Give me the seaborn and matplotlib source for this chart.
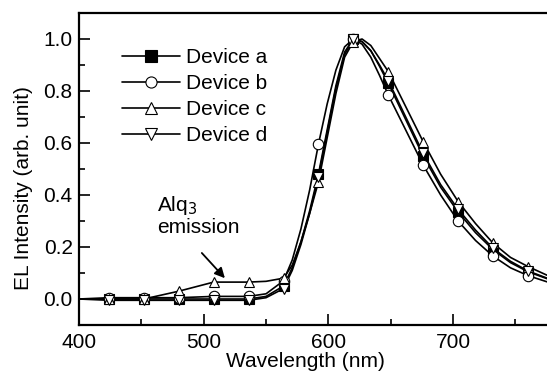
import matplotlib
matplotlib.use("Agg")
import matplotlib.pyplot as plt
import pandas as pd
import seaborn as sns
from matplotlib.lines import Line2D
from matplotlib.ticker import MultipleLocator

# wavelength grid for the curves (nm)
wavelength = [400, 424, 452, 480, 508, 536, 550, 564, 571, 578, 585, 592, 599, 606,
              613, 620, 627, 634, 641, 648, 662, 676, 690, 704, 718, 732, 746, 760, 776]
# wavelengths where symbols are drawn
marker_wl = [424, 452, 480, 508, 536, 564, 592, 620, 648, 676, 704, 732, 760]

device_a = [0.0, 0.0, 0.0, 0.0, 0.0, 0.0, 0.01, 0.05, 0.12, 0.22, 0.34, 0.48, 0.65, 0.82,
            0.95, 1.0, 0.99, 0.955, 0.895, 0.83, 0.69, 0.55, 0.43, 0.335, 0.255, 0.19, 0.14, 0.105, 0.077]
device_b = [0.0, 0.005, 0.005, 0.005, 0.01, 0.01, 0.02, 0.07, 0.15, 0.27, 0.42, 0.595, 0.75, 0.88,
            0.97, 1.0, 0.98, 0.93, 0.86, 0.785, 0.65, 0.515, 0.40, 0.30, 0.225, 0.165, 0.12, 0.09, 0.065]
device_c = [0.0, 0.0, 0.0, 0.03, 0.065, 0.065, 0.068, 0.08, 0.13, 0.22, 0.33, 0.45, 0.62, 0.79,
            0.93, 0.99, 1.0, 0.975, 0.925, 0.875, 0.74, 0.605, 0.48, 0.375, 0.29, 0.215, 0.16, 0.125, 0.09]
device_d = [0.0, -0.005, -0.005, -0.005, -0.005, -0.005, 0.005, 0.04, 0.11, 0.21, 0.33, 0.47, 0.64, 0.81,
            0.94, 1.0, 0.99, 0.955, 0.90, 0.84, 0.70, 0.56, 0.44, 0.345, 0.265, 0.195, 0.145, 0.108, 0.079]

labels = ["Device a", "Device b", "Device c", "Device d"]
markers = ["s", "o", "^", "v"]
faces = ["black", "white", "white", "white"]

sns.set_style("ticks")
plt.rcParams["font.family"] = ["Liberation Sans", "DejaVu Sans"]
plt.rcParams.update({"text.color": "black", "axes.labelcolor": "black",
                     "xtick.color": "black", "ytick.color": "black",
                     "axes.edgecolor": "black"})

fig = plt.figure(figsize=(5.47, 3.74), dpi=100)
ax = fig.add_axes([79 / 547, 1 - 325 / 374, 1 - 79 / 547, (325 - 13) / 374])

series = [device_a, device_b, device_c, device_d]
handles = []
for vals, lab, mk, fc in zip(series, labels, markers, faces):
    df = pd.DataFrame({"wl": wavelength, "y": vals})
    sns.lineplot(data=df, x="wl", y="y", ax=ax, color="black", lw=1.2, legend=False, zorder=2)
    pts = df[df["wl"].isin(marker_wl)]
    ax.plot(pts["wl"], pts["y"], ls="", marker=mk, ms=7.5, mfc=fc, mec="black", mew=0.8, zorder=3)
    handles.append(Line2D([], [], color="black", lw=1.2, marker=mk, ms=8, mfc=fc, mec="black", mew=0.8))

ax.set_xlim(400, 775.3)
ax.set_ylim(-0.1, 1.1)
ax.xaxis.set_major_locator(MultipleLocator(100))
ax.xaxis.set_minor_locator(MultipleLocator(50))
ax.yaxis.set_major_locator(MultipleLocator(0.2))
ax.yaxis.set_minor_locator(MultipleLocator(0.1))
ax.yaxis.set_major_formatter(plt.FuncFormatter(lambda v, _: f"{v:.1f}"))
ax.tick_params(which="both", direction="in", width=1.2, labelsize=15, top=False, right=False)
ax.tick_params(which="major", length=8)
ax.tick_params(axis="y", which="major", pad=4.5)
ax.tick_params(axis="x", which="major", pad=6)
ax.tick_params(which="minor", length=4)
for s in ["left", "bottom", "top"]:
    ax.spines[s].set_linewidth(1.6)
ax.spines["right"].set_visible(False)

ax.set_xlabel("Wavelength (nm)", fontsize=15)
ax.set_ylabel("EL Intensity (arb. unit)", fontsize=15)
ax.xaxis.set_label_coords(0.483, -0.085)
ax.yaxis.set_label_coords(-0.098, 0.44)

ax.text(462.5, 0.405, "Alq$_{3}$\nemission", fontsize=15, ha="left", va="top", linespacing=1.1)
ax.annotate("", xy=(517, 0.08), xytext=(498.5, 0.177),
            arrowprops=dict(arrowstyle="-|>", color="black", lw=1.3, mutation_scale=15,
                            shrinkA=0, shrinkB=0))

ax.legend(handles, labels, loc="upper left", bbox_to_anchor=(0.092, 0.888), frameon=False,
          fontsize=15, handlelength=2.8, handletextpad=0.25, labelspacing=0.34,
          borderaxespad=0, borderpad=0)

fig.savefig("out.png", dpi=100)
